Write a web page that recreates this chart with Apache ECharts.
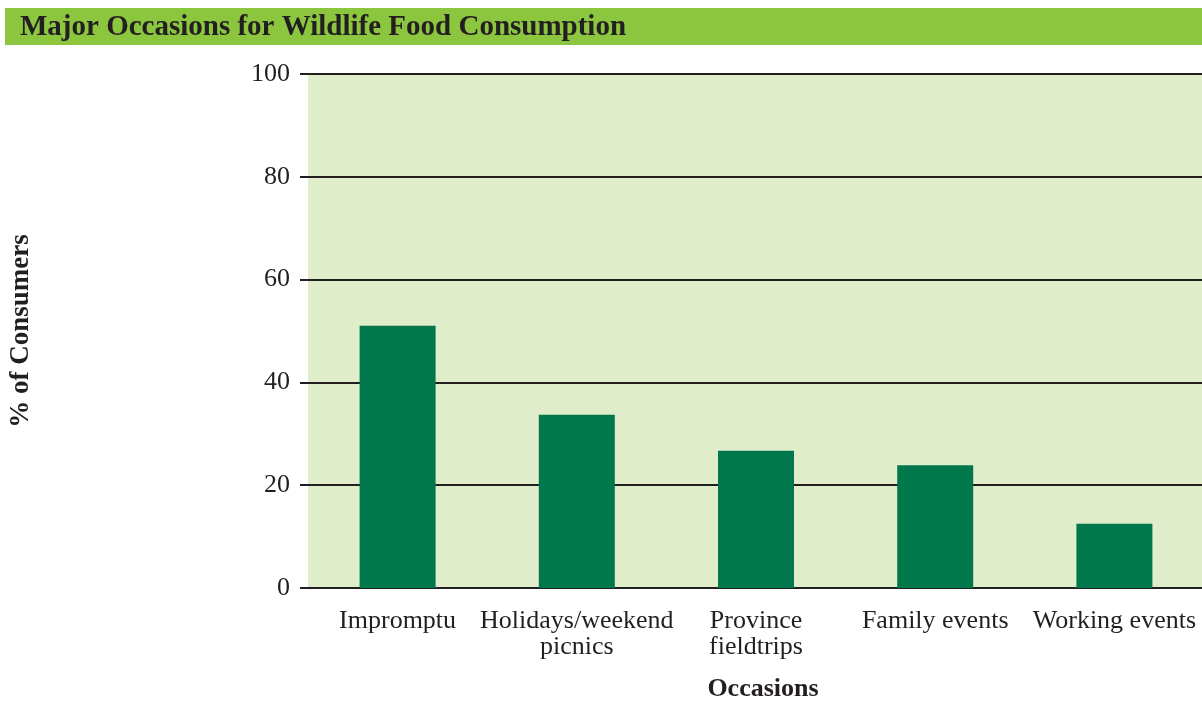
<!DOCTYPE html>
<html><head><meta charset="utf-8">
<script src="https://cdn.jsdelivr.net/npm/echarts@6/dist/echarts.min.js"></script>
<style>html,body{margin:0;padding:0;background:#fff}#c{width:1202px;height:702px}</style>
</head><body><div id="c"></div>
<script>
var titleText = 'Major Occasions for Wildlife Food Consumption';
var categories = ['Impromptu', 'Holidays/weekend\npicnics', 'Province\nfieldtrips', 'Family events', 'Working events'];
var values = [51.0, 33.7, 26.7, 23.9, 12.5];
var yTicks = [0, 20, 40, 60, 80, 100];
var xName = 'Occasions';
var yName = '% of Consumers';

var serif = '"Liberation Serif", "DejaVu Serif", serif';
var chart = echarts.init(document.getElementById('c'));
chart.setOption({
  animation: false,
  graphic: [
    {type: 'rect', left: 5, top: 8, shape: {width: 1197, height: 37}, style: {fill: '#8cc63f'}},
    {type: 'text', x: 20, y: 28, style: {text: titleText, font: 'bold 29px ' + serif, fill: '#231f20', verticalAlign: 'middle'}}
  ],
  grid: {left: 308, top: 74, width: 896, height: 514, show: true, backgroundColor: '#dfedca', borderWidth: 0,
         outerBoundsMode: 'none', containLabel: false},
  xAxis: {
    type: 'category', data: categories,
    axisLine: {show: false}, axisTick: {show: false},
    axisLabel: {fontFamily: serif, fontSize: 26, color: '#231f20', margin: 20, lineHeight: 26, interval: 0},
    name: xName, nameLocation: 'middle', nameGap: 88,
    nameTextStyle: {fontFamily: serif, fontSize: 26, fontWeight: 'bold', color: '#231f20', padding: [0, 0, 0, 14]}
  },
  yAxis: {
    type: 'value', min: 0, max: 100, interval: 20,
    axisLine: {show: false},
    axisTick: {show: true, length: 8, lineStyle: {color: '#231f20', width: 2}},
    splitLine: {show: true, lineStyle: {color: '#231f20', width: 2}},
    axisLabel: {fontFamily: serif, fontSize: 26, color: '#231f20', margin: 18,
      formatter: function (v) { return yTicks.indexOf(v) >= 0 ? String(v) : ''; }},
    name: yName, nameLocation: 'middle', nameGap: 273,
    nameTextStyle: {fontFamily: serif, fontSize: 27, fontWeight: 'bold', color: '#231f20'}
  },
  series: [{
    type: 'bar', data: values, barWidth: 76,
    itemStyle: {color: '#00784c'}
  }]
});
</script></body></html>
